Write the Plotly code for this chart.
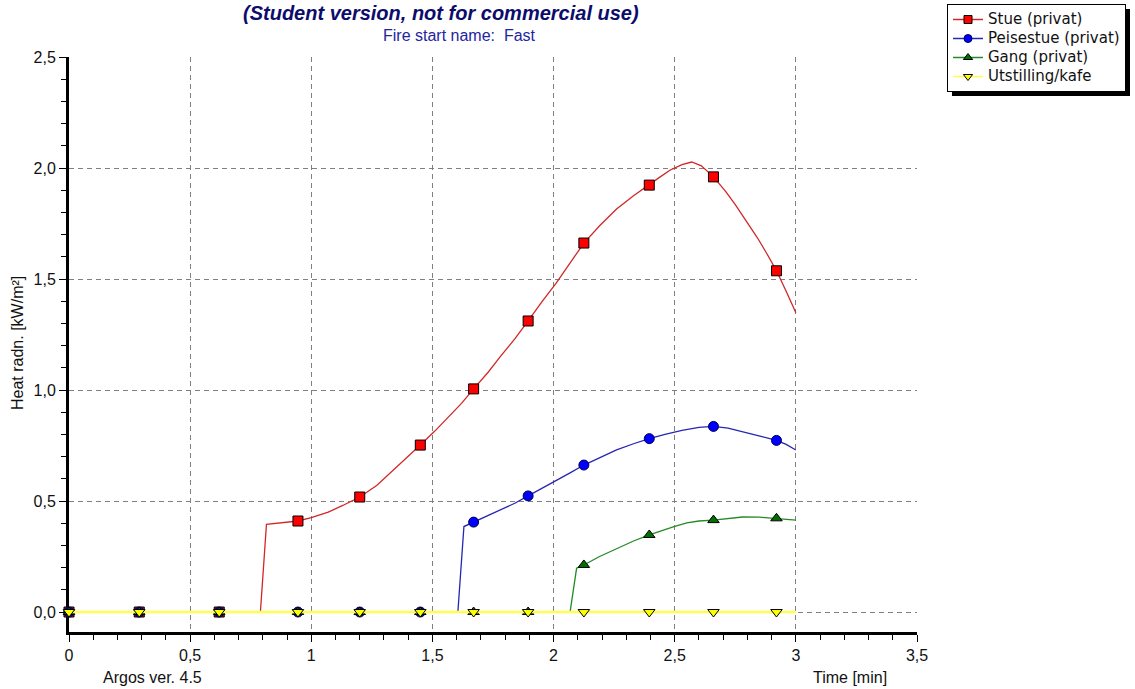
import plotly.graph_objects as go

W, H = 1135, 689

# Sample times (min) at which the markers are drawn
t_mark = [0, 0.29, 0.62, 0.945, 1.2, 1.45, 1.67, 1.895, 2.125, 2.395, 2.66, 2.92]

# Heat radiation curves [kW/m2] per room
stue_t = [0, 0.29, 0.62, 0.79, 0.815, 0.88, 0.945, 1.0, 1.07, 1.13, 1.2, 1.27, 1.33, 1.39,
          1.45, 1.51, 1.56, 1.62, 1.67, 1.73, 1.78, 1.84, 1.895, 1.95, 2.01, 2.07, 2.125,
          2.19, 2.26, 2.33, 2.395, 2.44, 2.48, 2.53, 2.57, 2.61, 2.66, 2.71, 2.75, 2.8,
          2.84, 2.88, 2.92, 2.96, 3.0]
stue_v = [0, 0, 0, 0, 0.395, 0.402, 0.41, 0.425, 0.45, 0.48, 0.518, 0.57, 0.63, 0.69,
          0.752, 0.815, 0.87, 0.94, 1.005, 1.08, 1.15, 1.23, 1.311, 1.395, 1.48, 1.575, 1.662,
          1.74, 1.815, 1.875, 1.923, 1.96, 1.99, 2.015, 2.027, 2.01, 1.96, 1.895, 1.835, 1.755,
          1.688, 1.615, 1.537, 1.445, 1.348]

peis_t = [0, 0.29, 0.62, 0.945, 1.2, 1.45, 1.605, 1.63, 1.67, 1.73, 1.78, 1.84, 1.895,
          1.95, 2.01, 2.07, 2.125, 2.19, 2.26, 2.33, 2.395, 2.46, 2.53, 2.6, 2.66, 2.72,
          2.79, 2.86, 2.92, 2.96, 3.0]
peis_v = [0, 0, 0, 0, 0, 0, 0, 0.385, 0.405, 0.435, 0.46, 0.49, 0.523,
          0.555, 0.59, 0.628, 0.662, 0.695, 0.73, 0.758, 0.781, 0.8, 0.818, 0.832, 0.836, 0.828,
          0.81, 0.79, 0.773, 0.755, 0.73]

gang_t = [0, 0.29, 0.62, 0.945, 1.2, 1.45, 1.67, 1.895, 2.068, 2.095, 2.125, 2.19, 2.26,
          2.33, 2.395, 2.45, 2.5, 2.55, 2.6, 2.66, 2.72, 2.78, 2.85, 2.92, 2.96, 3.0]
gang_v = [0, 0, 0, 0, 0, 0, 0, 0, 0, 0.197, 0.212, 0.25, 0.285,
          0.32, 0.347, 0.368, 0.386, 0.402, 0.41, 0.414, 0.422, 0.428, 0.427, 0.422, 0.418, 0.414]

utst_t = [0, 0.29, 0.62, 0.945, 1.2, 1.45, 1.67, 1.895, 2.125, 2.395, 2.66, 2.92, 3.0]
utst_v = [0, 0, 0, 0, 0, 0, 0, 0, 0, 0, 0, 0, 0]

names = ["Stue (privat)", "Peisestue (privat)", "Gang (privat)", "Utstilling/kafe"]
curves = [(stue_t, stue_v), (peis_t, peis_v), (gang_t, gang_v), (utst_t, utst_v)]
line_colors = ["#d02828", "#2626b4", "#248a24", "#ffff50"]
fill_colors = ["#ff0000", "#0000ff", "#007000", "#ffff00"]
edge_colors = ["#000000", "#000050", "#000000", "#000000"]
symbols = ["square", "circle", "triangle-up", "triangle-down"]
sizes = [10, 10, 10, 10]
line_widths = [1.3, 1.3, 1.3, 2.5]

fig = go.Figure()
for i, name in enumerate(names):
    t, v = curves[i]
    lookup = dict(zip(t, v))
    mt = [x for x in t_mark if x in lookup]
    mv = [lookup[x] for x in mt]
    # continuous curve
    fig.add_trace(go.Scatter(x=t, y=v, mode="lines", showlegend=False,
                             legendgroup=name, hoverinfo="skip",
                             line=dict(color=line_colors[i], width=line_widths[i])))
    # sample markers
    fig.add_trace(go.Scatter(x=mt, y=mv, mode="markers", showlegend=False,
                             legendgroup=name, cliponaxis=False,
                             marker=dict(symbol=symbols[i], size=sizes[i], color=fill_colors[i],
                                         line=dict(color=edge_colors[i], width=1))))
    # legend entry (line + marker)
    fig.add_trace(go.Scatter(x=[None], y=[None], mode="lines+markers",
                             name=f"<span style='font-size:15px'>{name}</span>",
                             legendgroup=name,
                             line=dict(color=line_colors[i], width=1.5),
                             marker=dict(symbol=symbols[i], size=8, color=fill_colors[i],
                                         line=dict(color=edge_colors[i], width=1))))

tick_font = dict(family="Arial", size=16, color="#111111")
axis_common = dict(
    showline=True, linewidth=3, linecolor="black",
    ticks="outside", ticklen=7, tickwidth=1, tickcolor="black",
    showgrid=True, gridcolor="#808080", gridwidth=1, griddash="5px,4px",
    zeroline=False, layer="below traces", tickfont=tick_font, automargin=False,
)

fig.update_xaxes(domain=[69 / W, 917 / W], range=[0, 3.5], tick0=0, dtick=0.5,
                 minor=dict(dtick=0.1, ticks="outside", ticklen=5, tickcolor="black",
                            showgrid=False),
                 **axis_common)
fig.update_yaxes(domain=[(H - 632) / H, (H - 57) / H], range=[-0.09, 2.5], tick0=0,
                 dtick=0.5, tickformat=".1f",
                 minor=dict(dtick=0.1, ticks="outside", ticklen=5, tickcolor="black",
                            showgrid=False),
                 **axis_common)

annotations = [
    dict(text="<b><i>(Student version, not for commercial use)</i></b>",
         x=441 / W, y=1, xanchor="center", yanchor="top",
         font=dict(family="Arial", size=20, color="#0c0c6c")),
    dict(text="Fire start name:\u00a0 Fast", x=459 / W, y=1 - 35.5 / H,
         xanchor="center", yanchor="middle",
         font=dict(family="Arial", size=16, color="#2424a0")),
    dict(text="Heat radn. [kW/m²]", x=18 / W, y=1 - 343 / H, textangle=-90,
         xanchor="center", yanchor="middle",
         font=dict(family="Arial", size=16, color="#111111")),
    dict(text="Time [min]", x=850 / W, y=1 - 677 / H, xanchor="center", yanchor="middle",
         font=dict(family="Arial", size=16, color="#111111")),
    dict(text="Argos ver. 4.5", x=152 / W, y=1 - 677 / H, xanchor="center", yanchor="middle",
         font=dict(family="Arial", size=16, color="#111111")),
]
for a in annotations:
    a.update(xref="paper", yref="paper", showarrow=False)

# drop shadow behind the legend box
shadow = dict(type="rect", xref="paper", yref="paper",
              x0=952 / W, x1=1130 / W, y0=1 - 96 / H, y1=1 - 9 / H,
              fillcolor="black", line=dict(width=0), layer="above")

fig.update_layout(
    width=W, height=H,
    margin=dict(l=0, r=0, t=0, b=0, autoexpand=False),
    paper_bgcolor="white", plot_bgcolor="white",
    separators=", ",
    showlegend=True,
    legend=dict(x=947 / W, y=1 - 4 / H, xanchor="left", yanchor="top",
                bgcolor="white", bordercolor="black", borderwidth=1,
                font=dict(family="DejaVu Sans", size=12, color="#111111"),
                traceorder="normal", itemwidth=30),
    annotations=annotations,
    shapes=[shadow],
)

fig.write_html("out.html")
